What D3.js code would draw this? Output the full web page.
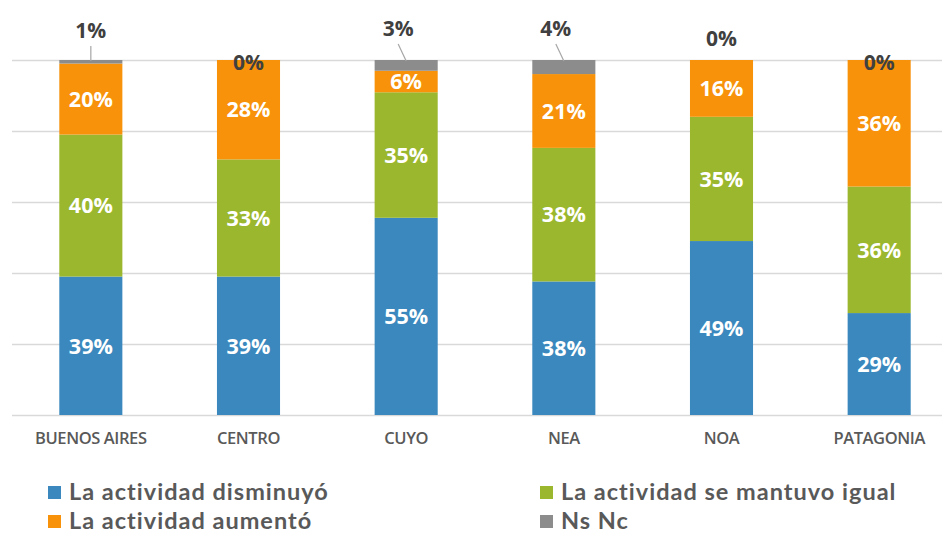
<!DOCTYPE html>
<html><head><meta charset="utf-8">
<script src="https://cdn.jsdelivr.net/npm/d3@7"></script>
<style>body{margin:0;background:#fff}svg{display:block}</style>
</head><body>
<svg id="c" width="945" height="536"></svg>
<script>
const categories = ["BUENOS AIRES","CENTRO","CUYO","NEA","NOA","PATAGONIA"];
const disminuyo = [39,39,55,38,49,29];
const igual     = [40,33,35,38,35,36];
const aumento   = [20,28,6,21,16,36];
const nsnc      = [1,0,3,4,0,0];
const seriesNames = ["La actividad disminuyó","La actividad se mantuvo igual","La actividad aumentó","Ns Nc"];
const yTicks = [0,0.2,0.4,0.6,0.8,1];

const colors = ["#3a88bd","#9bb72d","#f7920a","#8c8c8c"];
const keys = ["d","i","a","n"];
const rows = categories.map((c,k)=>({cat:c,d:disminuyo[k],i:igual[k],a:aumento[k],n:nsnc[k]}));
const raw = {d:disminuyo,i:igual,a:aumento,n:nsnc};

const svg = d3.select("#c");
const x = d3.scaleBand().domain(categories).range([12,958]).paddingInner(0.6).paddingOuter(0.3);
const y = d3.scaleLinear().domain([0,1]).range([415,60]);

// gridlines
svg.append("g").selectAll("line").data(yTicks).join("line")
  .attr("x1",12).attr("x2",942)
  .attr("y1",d=>Math.round(y(d))+0.5).attr("y2",d=>Math.round(y(d))+0.5)
  .attr("stroke","#d9d9d9").attr("stroke-width",1.5);

const stack = d3.stack().keys(keys).offset(d3.stackOffsetExpand);
const series = stack(rows);

const g = svg.append("g");
series.forEach((s,si)=>{
  g.append("g").attr("fill",colors[si]).selectAll("rect").data(s).join("rect")
    .attr("x",d=>x(d.data.cat)).attr("width",x.bandwidth())
    .attr("y",d=>y(d[1])).attr("height",d=>y(d[0])-y(d[1]));
});

// inner labels
series.slice(0,3).forEach((s,si)=>{
  g.append("g").selectAll("text").data(s).join("text")
    .attr("x",d=>x(d.data.cat)+x.bandwidth()/2)
    .attr("y",d=>y((d[0]+d[1])/2))
    .attr("dy","0.36em")
    .attr("text-anchor","middle")
    .attr("font-family","'Open Sans',sans-serif").attr("font-weight",700).attr("font-size",21.5)
    .attr("fill","#fff")
    .text((d,k)=>raw[keys[si]][k]+"%");
});

// Ns Nc labels (manually placed like the original)
const nsOff = [{dx:0,dy:-30,lead:true},{dx:0,dy:2,lead:false},{dx:-8,dy:-32,lead:true},{dx:-8,dy:-32,lead:true},{dx:0,dy:-22,lead:false},{dx:0,dy:2,lead:false}];
const topSeries = series[3];
topSeries.forEach((d,k)=>{
  const cx = x(d.data.cat)+x.bandwidth()/2;
  const o = nsOff[k];
  const ty = y(d[1]) + o.dy;
  if(o.lead){
    svg.append("line").attr("x1",cx+o.dx).attr("y1",ty+16).attr("x2",cx).attr("y2",y(d[1])+1)
      .attr("stroke","#a6a6a6").attr("stroke-width",1.2);
  }
  svg.append("text").attr("x",cx+o.dx).attr("y",ty).attr("dy","0.36em")
    .attr("text-anchor","middle")
    .attr("font-family","'Open Sans',sans-serif").attr("font-weight",700).attr("font-size",21)
    .attr("fill","#404040").text(nsnc[k]+"%");
});

// x axis labels
svg.append("g").selectAll("text").data(categories).join("text")
  .attr("x",d=>x(d)+x.bandwidth()/2).attr("y",438).attr("dy","0.36em")
  .attr("text-anchor","middle")
  .attr("font-family","'Open Sans',sans-serif").attr("font-size",16.5).attr("font-weight",600)
  .attr("letter-spacing","-0.4px")
  .attr("fill","#595959").text(d=>d);

// legend
const legPos = [[48,492],[540,492],[48,521],[540,521]];
seriesNames.forEach((n,si)=>{
  const [lx,ly] = legPos[si];
  svg.append("rect").attr("x",lx).attr("y",ly-6).attr("width",13).attr("height",13).attr("fill",colors[si]);
  svg.append("text").attr("x",lx+21).attr("y",ly).attr("dy","0.36em")
    .attr("font-family","Lato,sans-serif").attr("font-weight",700).attr("font-size",23.5)
    .attr("letter-spacing","1px")
    .attr("fill","#595959").text(n);
});
</script>
</body></html>
